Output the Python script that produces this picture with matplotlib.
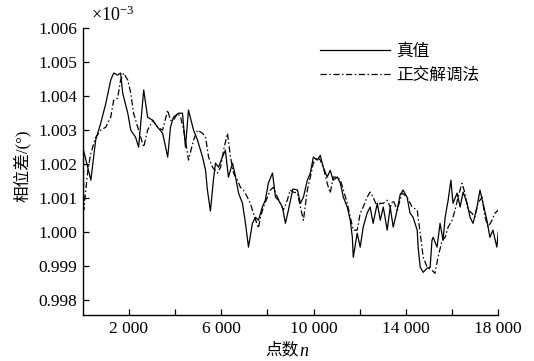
import numpy as np
import matplotlib
matplotlib.use("Agg")
import matplotlib.pyplot as plt
from matplotlib.ticker import FixedLocator, FuncFormatter

plt.rcParams['font.family'] = ['Liberation Serif', 'Noto Sans CJK SC']
plt.rcParams['mathtext.fontset'] = 'custom'
plt.rcParams['mathtext.rm'] = 'Liberation Serif'
plt.rcParams['mathtext.it'] = 'Liberation Serif:italic'

# true phase difference (x1e-3 deg)
n_true = [0, 350, 560, 780, 1000, 1210, 1340, 1510, 1640, 1730, 1950, 2080, 2290, 2420,
          2640, 2810, 3030, 3240, 3460, 3680, 3800, 3930, 4150, 4320, 4450, 4580, 4800,
          4970, 5190, 5320, 5400, 5530, 5660, 5750, 5880, 6050, 6180, 6310, 6490, 6620,
          6750, 6920, 7050, 7180, 7350, 7480, 7610, 7780, 7910, 8040, 8220, 8350, 8480,
          8650, 8780, 8910, 9100, 9300, 9430, 9560, 9730, 9860, 9990, 10160, 10290, 10420,
          10590, 10720, 10850, 11030, 11160, 11290, 11460, 11590, 11680, 11720, 11890,
          12020, 12150, 12320, 12450, 12580, 12760, 12890, 13020, 13190, 13320, 13450,
          13620, 13750, 13880, 14050, 14180, 14310, 14490, 14530, 14620, 14750, 14920,
          15050, 15130, 15180, 15350, 15480, 15610, 15700, 15830, 15950, 16040, 16220,
          16350, 16480, 16650, 16780, 16910, 17080, 17210, 17340, 17510, 17640, 17770,
          17940, 18000]
v_true = [1.0025, 1.00153, 1.00271, 1.00321, 1.00379, 1.00447, 1.00468, 1.00462, 1.00468,
          1.00409, 1.0035, 1.0030, 1.00279, 1.0025, 1.00418, 1.00338, 1.00329, 1.00309,
          1.00291, 1.00221, 1.00309, 1.00338, 1.0035, 1.0035, 1.0025, 1.00359, 1.0030,
          1.00271, 1.00221, 1.00182, 1.00124, 1.00062, 1.00153, 1.00203, 1.00191, 1.00221,
          1.00241, 1.00162, 1.00203, 1.00162, 1.00115, 1.00085, 1.00026, 0.99956, 1.00026,
          1.00044, 1.00035, 1.00074, 1.00094, 1.00144, 1.00174, 1.00103, 1.00094, 1.00074,
          1.00026, 1.00065, 1.00127, 1.00124, 1.00085, 1.00103, 1.00153, 1.00174, 1.00221,
          1.00212, 1.00226, 1.00191, 1.00162, 1.00182, 1.00153, 1.00162, 1.00144, 1.00103,
          1.00074, 1.00035, 0.99985, 0.99926, 0.99997, 0.99956, 1.00015, 1.00056, 1.00074,
          1.00026, 1.00085, 1.00035, 1.00074, 1.00006, 1.00074, 1.00015, 1.00065, 1.0011,
          1.00124, 1.00103, 1.00056, 1.00044, 1.00006, 0.99956, 0.99897, 0.99882, 0.99894,
          0.99897, 0.99976, 0.99985, 0.99956, 1.00026, 0.99976, 1.00044, 1.00094, 1.00153,
          1.00085, 1.00115, 1.00074, 1.00118, 1.00085, 1.00044, 1.00026, 1.00074, 1.00124,
          1.00085, 1.00035, 0.99985, 1.00006, 0.99956, 1.0000]

# orthogonal demodulation result
n_demod = [0, 40, 220, 350, 560, 780, 1000, 1210, 1340, 1510, 1640, 1770, 1950, 2080, 2200,
           2380, 2510, 2640, 2810, 3030, 3240, 3460, 3680, 3800, 3930, 4110, 4240, 4370,
           4540, 4580, 4800, 4970, 5190, 5320, 5450, 5620, 5840, 5970, 6100, 6270, 6400,
           6530, 6700, 6830, 6960, 7130, 7260, 7390, 7570, 7610, 7700, 7830, 8000, 8130,
           8260, 8430, 8560, 8690, 8860, 8990, 9120, 9300, 9430, 9560, 9730, 9860, 9990,
           10160, 10290, 10420, 10590, 10720, 10850, 11030, 11160, 11290, 11460, 11590,
           11720, 11890, 12020, 12150, 12320, 12450, 12580, 12760, 12890, 13020, 13190,
           13320, 13450, 13620, 13840, 14050, 14270, 14490, 14620, 14750, 14920, 15130,
           15260, 15390, 15570, 15700, 15830, 16000, 16130, 16260, 16430, 16560, 16690,
           16860, 16990, 17120, 17300, 17430, 17560, 17730, 17860, 18000]
v_demod = [1.0060, 1.00065, 1.00182, 1.00232, 1.00279, 1.0030, 1.00309, 1.00338, 1.00388,
           1.00394, 1.00447, 1.00468, 1.00447, 1.00409, 1.0035, 1.00309, 1.00279, 1.0025,
           1.0030, 1.00329, 1.00309, 1.0030, 1.00359, 1.00329, 1.00329, 1.0035, 1.00338,
           1.0030, 1.00232, 1.00212, 1.00271, 1.0030, 1.00291, 1.00279, 1.00221, 1.00191,
           1.00174, 1.00191, 1.00241, 1.00291, 1.00221, 1.00174, 1.00153, 1.00132, 1.00124,
           1.00103, 1.00085, 1.00056, 1.0002, 1.00012, 1.00044, 1.00074, 1.00103, 1.00124,
           1.00132, 1.00103, 1.00085, 1.00065, 1.00094, 1.00124, 1.00118, 1.00115, 1.00074,
           1.00035, 1.00124, 1.00162, 1.00203, 1.00221, 1.00212, 1.00191, 1.00144, 1.00115,
           1.00162, 1.00162, 1.00153, 1.00124, 1.00085, 1.00044, 1.00006, 1.00006, 1.00056,
           1.00074, 1.00103, 1.00118, 1.00103, 1.00074, 1.00085, 1.00085, 1.00094, 1.00074,
           1.00094, 1.00065, 1.00115, 1.00103, 1.00074, 1.00065, 0.99997, 0.99926, 0.99897,
           0.99888, 0.99879, 0.99926, 0.99976, 0.99985, 1.00015, 1.00035, 1.00065, 1.00103,
           1.00144, 1.00115, 1.00065, 1.00056, 1.00044, 1.00085, 1.00103, 1.00044, 1.00015,
           1.00035, 1.00056, 1.00065]

yticks = [0.998, 0.999, 1.000, 1.001, 1.002, 1.003, 1.004, 1.005, 1.006]
xticks = [2000, 4000, 6000, 8000, 10000, 12000, 14000, 16000, 18000]
xlabels_shown = [2000, 6000, 10000, 14000, 18000]

fig = plt.figure(figsize=(5.34, 3.61), dpi=100)
ax = fig.add_axes([0.155, 0.127, 0.778, 0.795])

ax.plot(n_true, v_true, color='black', lw=0.9, label='真值')
ax.plot(n_demod, v_demod, color='black', lw=0.9, ls=(0, (5, 2, 1.2, 2)), label='正交解调法')

ax.set_xlim(0, 18000)
ax.set_ylim(0.99756, 1.006)
ax.yaxis.set_major_locator(FixedLocator(yticks))
ax.yaxis.set_major_formatter(FuncFormatter(lambda v, p: '%.3f' % v))
ax.xaxis.set_major_locator(FixedLocator(xticks))

def xfmt(v, p):
    if int(round(v)) in xlabels_shown:
        s = '%d' % int(round(v))
        return s[:-3] + ' ' + s[-3:]
    return ''
ax.xaxis.set_major_formatter(FuncFormatter(xfmt))

for s in ['top', 'right']:
    ax.spines[s].set_visible(False)
for s in ['left', 'bottom']:
    ax.spines[s].set_linewidth(1.0)
ax.tick_params(direction='in', length=4, width=0.9, labelsize=12.5, pad=4)

ax.set_ylabel('相位差/(°)', fontsize=12)
ax.yaxis.set_label_coords(-0.125, 0.52)

fig.text(299 / 534, 1 - 350 / 361, '点数', ha='right', va='center', fontsize=12)
fig.text(299 / 534, 1 - 351 / 361, '$n$', ha='left', va='center', fontsize=13)
fig.text(91 / 534, 1 - 15 / 361, r'$\times10^{-3}$', ha='left', va='center', fontsize=13)

leg = ax.legend(loc='upper left', bbox_to_anchor=(0.57, 0.945), frameon=False,
                fontsize=12, handlelength=4.2, handletextpad=0.4, borderpad=0,
                borderaxespad=0, labelspacing=0.45)

fig.savefig('out.png', dpi=100)
